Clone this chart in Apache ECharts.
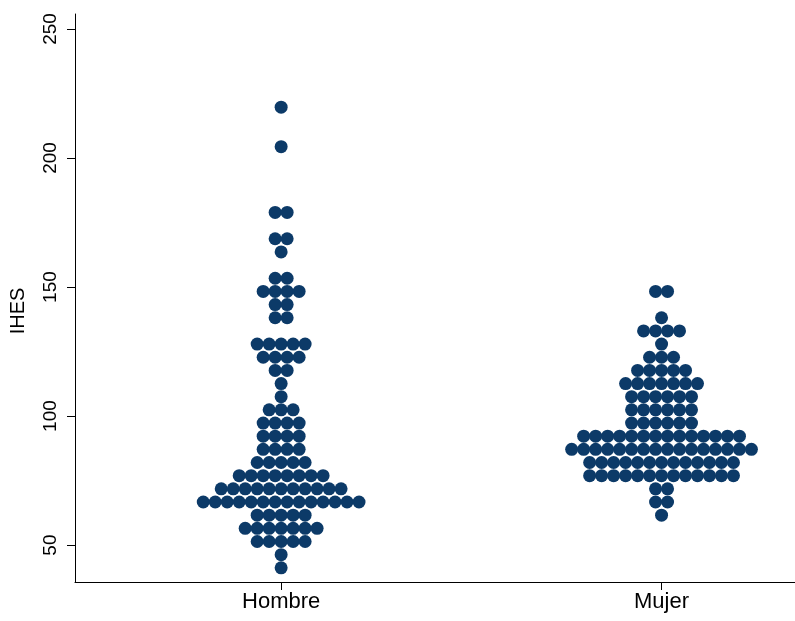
<!DOCTYPE html>
<html>
<head>
<meta charset="utf-8">
<script src="https://cdn.jsdelivr.net/npm/echarts@6/dist/echarts.min.js"></script>
<style>html,body{margin:0;padding:0;background:#fff}#c{width:795px;height:621px}</style>
</head>
<body>
<div id="c"></div>
<script>
const categories = ['Hombre', 'Mujer'];
const yTicks = [50, 100, 150, 200, 250];
const yTitle = 'IHES';

// Bin values (IHES) and number of observations in each bin
const hombreValues = [219.7, 204.4, 178.9, 168.7, 163.6, 153.4, 148.3, 143.2, 138.1, 127.9, 122.8, 117.7, 112.6, 107.5, 102.4, 97.3, 92.2, 87.1, 82.0, 76.9, 71.8, 66.7, 61.6, 56.5, 51.4, 46.3, 41.2];
const hombreCounts = [1, 1, 2, 2, 1, 2, 4, 2, 2, 5, 4, 2, 1, 1, 3, 4, 4, 4, 5, 8, 11, 14, 5, 7, 5, 1, 1];

const mujerValues = [148.3, 138.1, 133.0, 127.9, 122.8, 117.7, 112.6, 107.5, 102.4, 97.3, 92.2, 87.1, 82.0, 76.9, 71.8, 66.7, 61.6];
const mujerCounts = [2, 1, 4, 1, 3, 5, 7, 6, 6, 6, 14, 16, 13, 13, 2, 2, 1];

const DOT_STEP = 0.0315; // horizontal spacing of stacked dots, in x-axis units

function dotLayout(center, values, counts) {
  const pts = [];
  values.forEach((v, r) => {
    const n = counts[r];
    for (let i = 0; i < n; i++) {
      pts.push([center + (i - (n - 1) / 2) * DOT_STEP, v]);
    }
  });
  return pts;
}

const chart = echarts.init(document.getElementById('c'), null, {renderer: 'canvas'});
const font = 'Liberation Sans, Arial, sans-serif';
const dotColor = '#0c3a68';
chart.setOption({
  animation: false,
  backgroundColor: '#fff',
  grid: {left: 72, right: 0, top: 14, bottom: 39, containLabel: false},
  xAxis: {
    type: 'value',
    min: 0.4581, max: 2.3508,
    axisLine: {show: true, onZero: false, lineStyle: {color: '#000', width: 1}},
    axisTick: {show: true, customValues: [1, 2], length: 8, lineStyle: {color: '#000'}},
    axisLabel: {
      customValues: [1, 2],
      formatter: v => categories[Math.round(v) - 1],
      fontSize: 22, color: '#000', fontFamily: font, margin: 9
    },
    splitLine: {show: false}
  },
  yAxis: {
    type: 'value',
    min: 35.7, max: 255.8,
    name: yTitle,
    nameLocation: 'middle',
    nameGap: 47,
    nameTextStyle: {fontSize: 20, color: '#000', fontFamily: font, padding: [0, 26, 0, 0]},
    axisLine: {show: true, lineStyle: {color: '#000', width: 1}},
    axisTick: {show: true, customValues: yTicks, length: 8, lineStyle: {color: '#000'}},
    axisLabel: {
      customValues: yTicks,
      rotate: 90,
      fontSize: 19, color: '#000', fontFamily: font, margin: 15
    },
    splitLine: {show: false}
  },
  series: [
    {
      name: categories[0], type: 'scatter', symbol: 'circle', symbolSize: 13,
      itemStyle: {color: dotColor, opacity: 1},
      data: dotLayout(1, hombreValues, hombreCounts)
    },
    {
      name: categories[1], type: 'scatter', symbol: 'circle', symbolSize: 13,
      itemStyle: {color: dotColor, opacity: 1},
      data: dotLayout(2, mujerValues, mujerCounts)
    }
  ]
});
</script>
</body>
</html>
